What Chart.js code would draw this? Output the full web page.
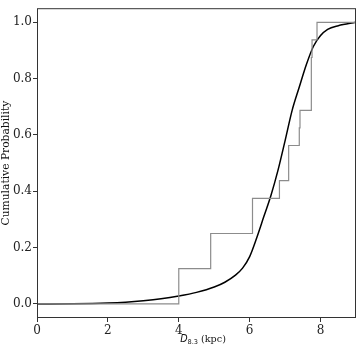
<!DOCTYPE html>
<html>
<head>
<meta charset="utf-8">
<script src="https://cdn.jsdelivr.net/npm/chart.js@4"></script>
<style>
  html, body { margin: 0; padding: 0; background: #fff; }
  #wrap { width: 357px; height: 348px; }
</style>
</head>
<body>
<div id="wrap"><canvas id="cdfChart" width="357" height="348"></canvas></div>
<script>
// empirical CDF (steps)
const stepX = [0, 4.0, 4.9, 6.08, 6.84, 7.10, 7.40, 7.42, 7.74, 7.76, 7.90, 9.0];
const stepY = [0, 0.125, 0.25, 0.375, 0.4375, 0.5625, 0.625, 0.6875, 0.875, 0.9375, 1.0, 1.0];

// model CDF (smooth curve)
const curveX = [0, 1, 2, 2.5, 3, 3.5, 4, 4.5, 5, 5.3, 5.6, 5.8, 6.0, 6.2, 6.4, 6.6, 6.8, 7.0, 7.2, 7.4, 7.6, 7.8, 8.0, 8.2, 8.5, 9.0];
const curveY = [0, 0.0005, 0.003, 0.006, 0.011, 0.018, 0.028, 0.041, 0.060, 0.077, 0.102, 0.127, 0.168, 0.235, 0.31, 0.385, 0.475, 0.58, 0.688, 0.77, 0.85, 0.915, 0.953, 0.975, 0.988, 1.0];

const xTicks = [0, 2, 4, 6, 8];
const yTicks = [0.0, 0.2, 0.4, 0.6, 0.8, 1.0];

const serif = "'DejaVu Serif', serif";
const axisColor = '#333';

// frame + axis titles (x title has a subscript, so draw it by hand)
const decorations = {
  id: 'decorations',
  afterDraw(chart) {
    const { ctx, chartArea: a } = chart;
    ctx.save();
    ctx.strokeStyle = axisColor;
    ctx.lineWidth = 1;
    ctx.strokeRect(a.left + 0.5, a.top + 0.5, a.right - a.left - 1, a.bottom - a.top - 1);

    // y title
    ctx.fillStyle = '#111';
    ctx.save();
    ctx.translate(6, (a.top + a.bottom) / 2);
    ctx.rotate(-Math.PI / 2);
    ctx.font = '10.7px ' + serif;
    ctx.textAlign = 'center';
    ctx.textBaseline = 'middle';
    ctx.fillText('Cumulative Probability', 0, 0);
    ctx.restore();

    // x title: D_{8.3} (kpc)
    const parts = [
      { t: 'D', f: "italic 9.6px 'DejaVu Sans', sans-serif", dy: 0 },
      { t: '8.3', f: "6.6px 'DejaVu Sans', sans-serif", dy: 2 },
      { t: ' (kpc)', f: '9.6px ' + serif, dy: 0 }
    ];
    let total = 0;
    parts.forEach(p => { ctx.font = p.f; p.w = ctx.measureText(p.t).width; total += p.w; });
    let x = (a.left + a.right) / 2 + 6.5 - total / 2;
    const base = 342;
    ctx.textAlign = 'left';
    ctx.textBaseline = 'alphabetic';
    parts.forEach(p => {
      ctx.font = p.f;
      ctx.fillText(p.t, x, base + p.dy);
      x += p.w;
    });
    ctx.restore();
  }
};

const ctx = document.getElementById('cdfChart').getContext('2d');
new Chart(ctx, {
  type: 'line',
  data: {
    datasets: [
      {
        label: 'Empirical',
        data: stepX.map((x, i) => ({ x: x, y: stepY[i] })),
        stepped: 'before',
        borderColor: '#8c8c8c',
        borderWidth: 1.2,
        pointRadius: 0,
        fill: false
      },
      {
        label: 'Model',
        data: curveX.map((x, i) => ({ x: x, y: curveY[i] })),
        borderColor: '#000',
        borderWidth: 1.5,
        pointRadius: 0,
        cubicInterpolationMode: 'monotone',
        fill: false
      }
    ]
  },
  options: {
    responsive: false,
    animation: false,
    layout: { padding: { top: 1, right: 1, left: 0, bottom: 0 } },
    plugins: {
      legend: { display: false },
      tooltip: { enabled: false }
    },
    scales: {
      x: {
        type: 'linear',
        min: 0,
        max: 9,
        afterBuildTicks: (scale) => { scale.ticks = xTicks.map(v => ({ value: v })); },
        afterFit: (scale) => { scale.height = 30; },
        ticks: {
          font: { family: serif, size: 12 },
          color: '#222',
          padding: 2,
          maxRotation: 0,
          callback: (v) => String(v)
        },
        grid: { drawOnChartArea: false, drawTicks: true, tickLength: 4, color: axisColor },
        border: { display: false }
      },
      y: {
        type: 'linear',
        min: -0.05,
        max: 1.05,
        afterBuildTicks: (scale) => { scale.ticks = yTicks.map(v => ({ value: v })); },
        afterFit: (scale) => { scale.width = 37; },
        ticks: {
          font: { family: serif, size: 12 },
          color: '#222',
          padding: 1,
          callback: (v) => Number(v).toFixed(1)
        },
        grid: { drawOnChartArea: false, drawTicks: true, tickLength: 4, color: axisColor },
        border: { display: false }
      }
    }
  },
  plugins: [decorations]
});
</script>
</body>
</html>
